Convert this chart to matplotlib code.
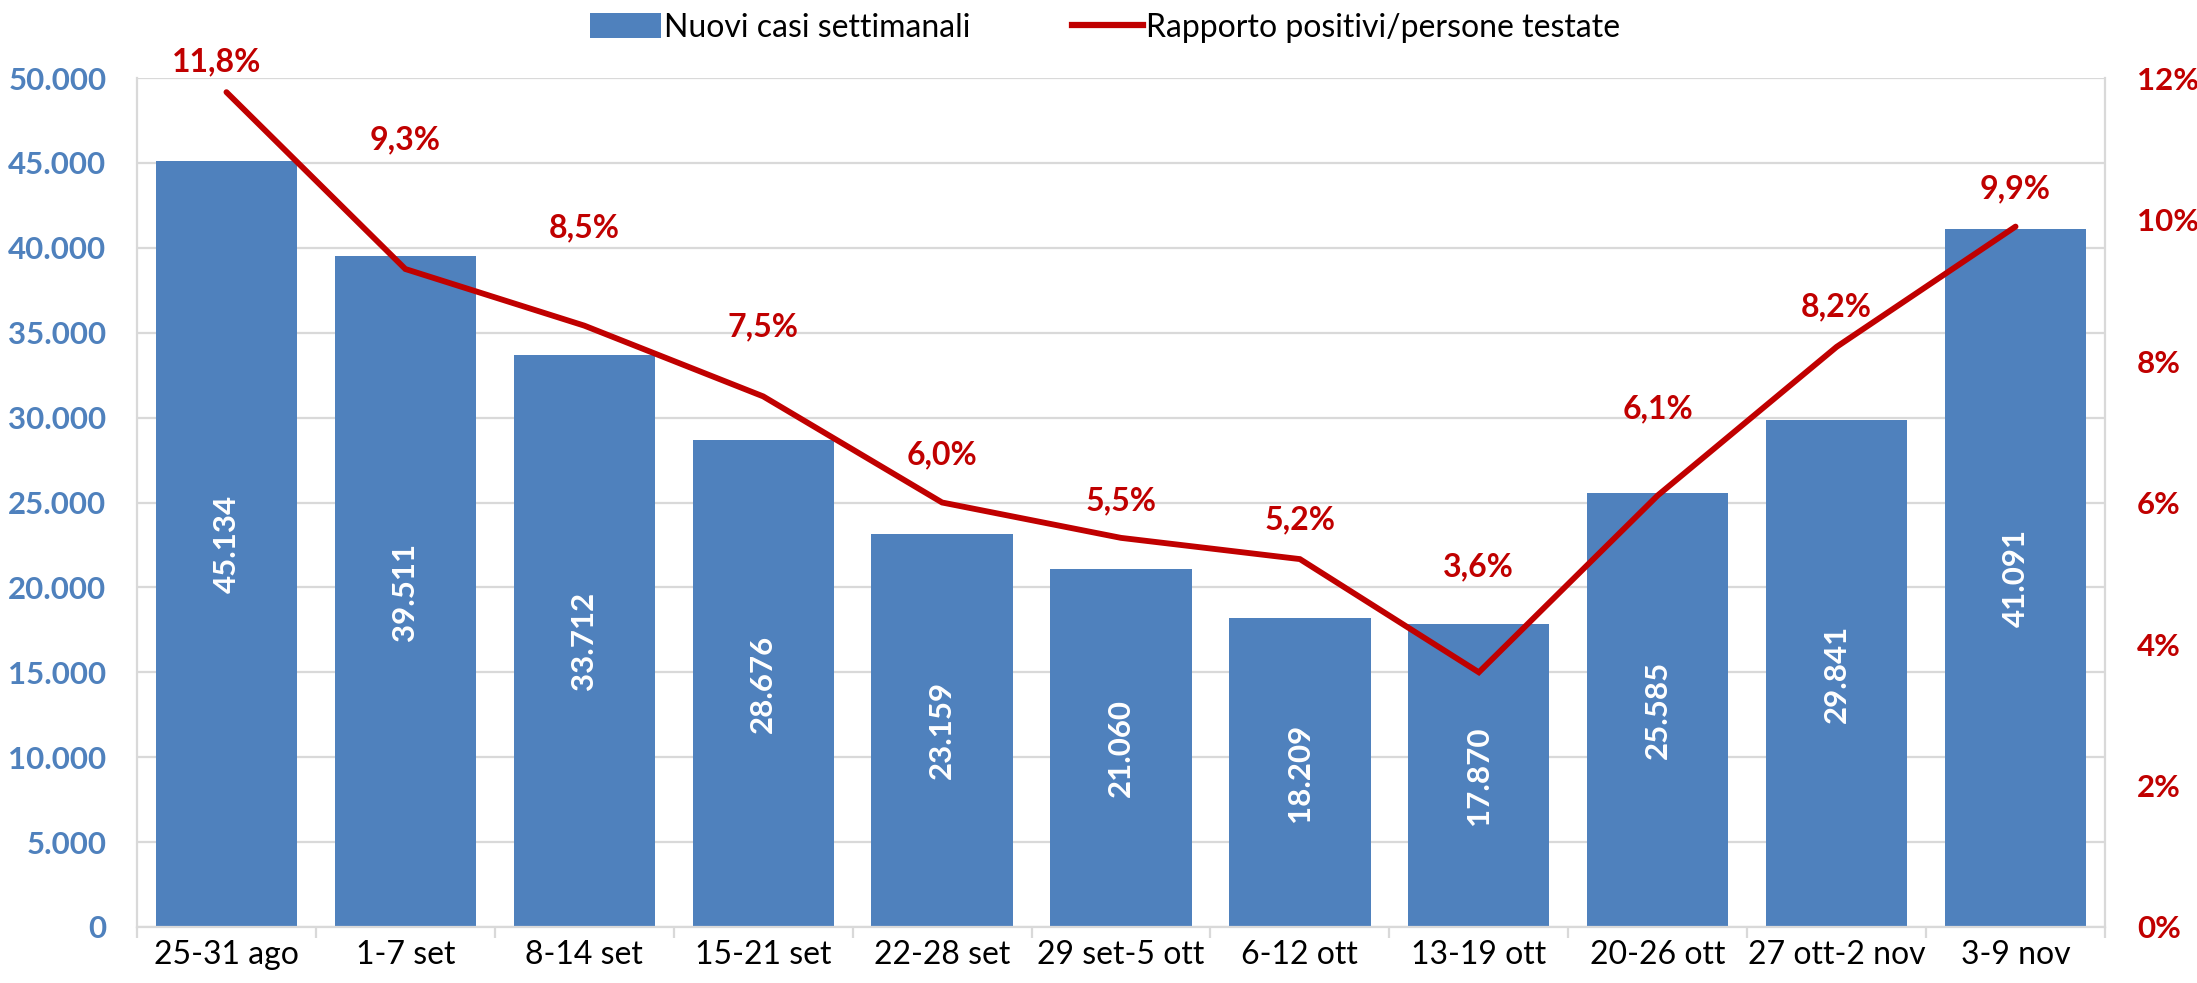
import matplotlib.pyplot as plt
from matplotlib.ticker import FuncFormatter, MultipleLocator
from matplotlib.patches import Patch
from matplotlib.lines import Line2D

# data
weeks = ['25-31 ago', '1-7 set', '8-14 set', '15-21 set', '22-28 set', '29 set-5 ott',
         '6-12 ott', '13-19 ott', '20-26 ott', '27 ott-2 nov', '3-9 nov']
new_cases = [45134, 39511, 33712, 28676, 23159, 21060, 18209, 17870, 25585, 29841, 41091]
positive_ratio = [11.8, 9.3, 8.5, 7.5, 6.0, 5.5, 5.2, 3.6, 6.1, 8.2, 9.9]

# label offsets (pixels) for the percentage labels, as placed in the original
label_dx = [-10, 0, 0, 0, 0, 0, 0, 0, 0, 0, 0]
label_dy = [30, 129, 98, 70, 48, 37, 39, 105, 87, 40, 38]

BLUE = '#4F81BD'
RED = '#C00000'
GRID = '#D9D9D9'

plt.rcParams['font.family'] = ['Lato', 'DejaVu Sans']

fig = plt.figure(figsize=(21.97, 9.83), dpi=100)
ax = fig.add_axes([137 / 2197, 1 - 927 / 983, (2105 - 137) / 2197, (927 - 78) / 983])
x = list(range(len(weeks)))

ax.bar(x, new_cases, width=0.79, color=BLUE, zorder=2)
for i, v in enumerate(new_cases):
    ax.text(i, v / 2, f'{v:,}'.replace(',', '.'), rotation=90, ha='center', va='center',
            color='white', fontsize=22.5, fontweight='bold', zorder=3)

ax.set_xlim(-0.5, len(weeks) - 0.5)
ax.set_ylim(0, 50000)
ax.yaxis.set_major_locator(MultipleLocator(5000))
ax.yaxis.set_major_formatter(FuncFormatter(lambda v, p: f'{int(v):,}'.replace(',', '.')))
ax.grid(axis='y', color=GRID, linewidth=1.6, zorder=0)
ax.set_axisbelow(True)
ax.tick_params(axis='y', length=0, pad=22, labelsize=22.5, labelcolor=BLUE)
for lab in ax.get_yticklabels():
    lab.set_fontweight('bold')

ax.set_xticks(x)
ax.set_xticklabels(weeks, fontsize=23)
ax.tick_params(axis='x', which='major', length=0, pad=9)
ax.set_xticks([i + 0.5 for i in range(-1, len(weeks))], minor=True)
ax.tick_params(axis='x', which='minor', length=8, width=1.6, color=GRID)

for side in ['left', 'right', 'bottom']:
    ax.spines[side].set_color(GRID)
    ax.spines[side].set_linewidth(1.6)
ax.spines['top'].set_visible(False)

ax2 = ax.twinx()
ax2.plot(x, [p / 100 for p in positive_ratio], color=RED, linewidth=4.2,
         solid_capstyle='round', solid_joinstyle='miter', zorder=4)
ax2.set_ylim(0, 0.12)
ax2.yaxis.set_major_locator(MultipleLocator(0.02))
ax2.yaxis.set_major_formatter(FuncFormatter(lambda v, p: f'{round(v * 100)}%'))
ax2.tick_params(axis='y', length=0, pad=23, labelsize=22.5, labelcolor=RED)
for lab in ax2.get_yticklabels():
    lab.set_fontweight('bold')
for side in ax2.spines:
    ax2.spines[side].set_visible(False)

for i, p in enumerate(positive_ratio):
    ax2.annotate(f'{p:.1f}'.replace('.', ',') + '%', (i, p / 100),
                 xytext=(label_dx[i], label_dy[i]), textcoords='offset pixels',
                 ha='center', va='center', color=RED, fontsize=23, fontweight='bold')

handles = [Patch(facecolor=BLUE, edgecolor='none'),
           Line2D([0], [0], color=RED, linewidth=4.5)]
fig.legend(handles, ['Nuovi casi settimanali', 'Rapporto positivi/persone testate'],
           loc='center', bbox_to_anchor=(0.503, 0.972), ncol=2, frameon=False,
           fontsize=23, handlelength=2.2, handleheight=0.8, handletextpad=0.1,
           columnspacing=3.2)

fig.savefig('out.png', dpi=100)
